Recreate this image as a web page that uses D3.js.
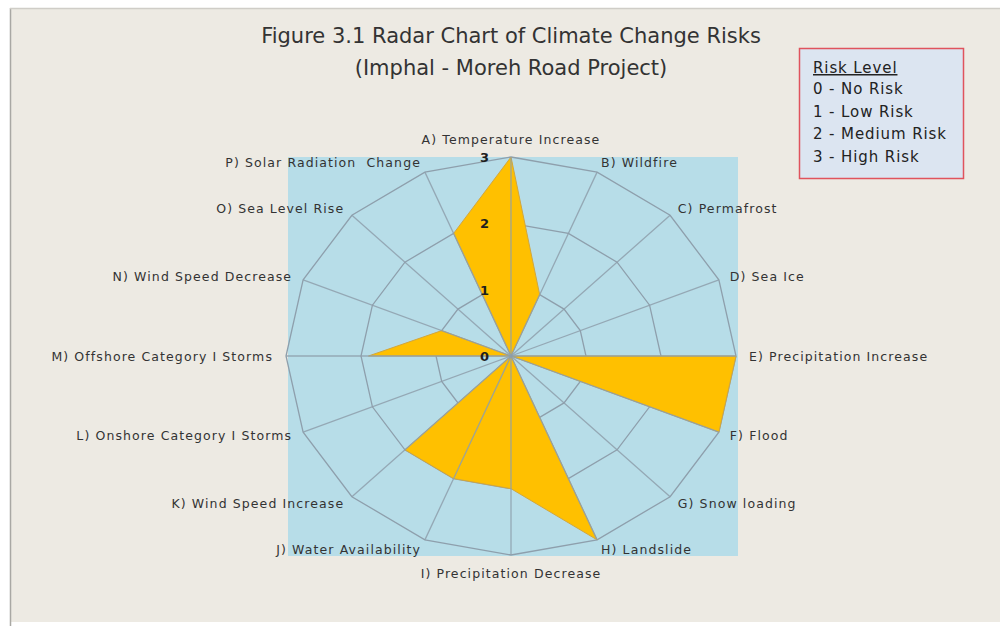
<!DOCTYPE html>
<html>
<head>
<meta charset="utf-8">
<script src="https://cdn.jsdelivr.net/npm/d3@7"></script>
<style>
  html, body { margin: 0; padding: 0; background: #ffffff; }
  svg { display: block; }
  text { font-family: "DejaVu Sans", "Open Sans", sans-serif; }
</style>
</head>
<body>
<svg id="chart" width="1000" height="626"></svg>
<script>
// Climate change risk categories, clockwise from the top
const categories = [
  "A) Temperature Increase",
  "B) Wildfire",
  "C) Permafrost",
  "D) Sea Ice",
  "E) Precipitation Increase",
  "F) Flood",
  "G) Snow loading",
  "H) Landslide",
  "I) Precipitation Decrease",
  "J) Water Availability",
  "K) Wind Speed Increase",
  "L) Onshore Category I Storms",
  "M) Offshore Category I Storms",
  "N) Wind Speed Decrease",
  "O) Sea Level Rise",
  "P) Solar Radiation  Change"
];

// Risk level per category (0 = none ... 3 = high)
const riskValues = [3, 1, 0, 0, 3, 3, 0, 3, 2, 2, 2, 0, 1.9, 1, 0, 2];

const tickValues = [0, 1, 2, 3];
const tickLabels = ["0", "1", "2", "3"];

const titleLines = [
  "Figure 3.1 Radar Chart of Climate Change Risks",
  "(Imphal - Moreh Road Project)"
];

const legendTitle = "Risk Level";
const legendLines = ["0 - No Risk", "1 - Low Risk", "2 - Medium Risk", "3 - High Risk"];

const svg = d3.select("#chart");

// page frame
svg.append("rect").attr("x", 11).attr("y", 9).attr("width", 989).attr("height", 613)
  .attr("fill", "#edeae3");
svg.append("line").attr("x1", 10.5).attr("x2", 10.5).attr("y1", 8).attr("y2", 626)
  .attr("stroke", "#a9a8a4").attr("stroke-width", 1.5);
svg.append("line").attr("x1", 10).attr("x2", 1000).attr("y1", 8.5).attr("y2", 8.5)
  .attr("stroke", "#cfcdc7").attr("stroke-width", 1.5);

// radar geometry (the plot is stretched horizontally)
const cx = 511, cy = 356, rx = 225, ry = 199;
const n = categories.length;
const angle = d3.scaleLinear().domain([0, n]).range([0, 2 * Math.PI]);
const radius = d3.scaleLinear().domain([0, 3]).range([0, 1]);

const px = (i, v) => cx + rx * radius(v) * Math.sin(angle(i));
const py = (i, v) => cy - ry * radius(v) * Math.cos(angle(i));

// plot area background
svg.append("rect")
  .attr("x", cx - rx + 2).attr("y", cy - ry)
  .attr("width", 2 * rx).attr("height", 2 * ry + 1)
  .attr("fill", "#b7dde8");

const gridColor = "#8e9fac";

// concentric rings for levels 1..3
const ringLine = d3.line().x(d => d[0]).y(d => d[1]).curve(d3.curveLinearClosed);
svg.append("g").selectAll("path")
  .data(tickValues.filter(t => t > 0))
  .join("path")
  .attr("d", t => ringLine(d3.range(n).map(i => [px(i, t), py(i, t)])))
  .attr("fill", "none")
  .attr("stroke", gridColor)
  .attr("stroke-width", 1.3);

// risk polygon
svg.append("path")
  .attr("d", ringLine(riskValues.map((v, i) => [px(i, v), py(i, v)])))
  .attr("fill", "#ffc000")
  .attr("stroke", "#d0a640")
  .attr("stroke-width", 1);

// spokes
svg.append("g").selectAll("line")
  .data(d3.range(n))
  .join("line")
  .attr("x1", cx).attr("y1", cy)
  .attr("x2", i => px(i, 3)).attr("y2", i => py(i, 3))
  .attr("stroke", gridColor)
  .attr("stroke-opacity", 0.85)
  .attr("stroke-width", 1.3);

// level tick labels along the first axis
svg.append("g").selectAll("text")
  .data(tickValues)
  .join("text")
  .attr("x", 489)
  .attr("y", t => py(0, t) + 5)
  .attr("text-anchor", "end")
  .attr("font-size", 13)
  .attr("font-weight", "bold")
  .attr("fill", "#1e1e1e")
  .text((t, i) => tickLabels[i]);

// category labels
svg.append("g").selectAll("text")
  .data(categories)
  .join("text")
  .attr("x", (d, i) => {
    const s = Math.sin(angle(i));
    const c = Math.abs(Math.cos(angle(i)));
    return cx + (rx + 10 + 3 * (1 - c)) * s;
  })
  .attr("y", (d, i) => {
    const c = Math.cos(angle(i));
    const extra = Math.abs(Math.sin(angle(i))) < 0.01 ? 8 : 0;
    return cy - (ry + 10 + extra) * c + 4.5;
  })
  .attr("text-anchor", (d, i) => {
    const s = Math.sin(angle(i));
    return s > 0.01 ? "start" : (s < -0.01 ? "end" : "middle");
  })
  .attr("font-size", 12.5)
  .attr("letter-spacing", 1.1)
  .attr("fill", "#333333")
  .style("white-space", "pre")
  .text(d => d);

// title
svg.append("g").selectAll("text")
  .data(titleLines)
  .join("text")
  .attr("x", 511)
  .attr("y", (d, i) => 43 + i * 32)
  .attr("text-anchor", "middle")
  .attr("font-family", "Open Sans, sans-serif")
  .attr("font-size", 21)
  .attr("fill", "#333333")
  .text(d => d);

// legend
const lg = svg.append("g").attr("transform", "translate(799,48)");
lg.append("rect")
  .attr("x", 0.5).attr("y", 0.5).attr("width", 164).attr("height", 130)
  .attr("fill", "#dce5f1")
  .attr("stroke", "#e0535d")
  .attr("stroke-width", 1.5);
lg.append("text")
  .attr("x", 14).attr("y", 25)
  .attr("font-size", 15)
  .attr("letter-spacing", 0.9)
  .attr("fill", "#222222")
  .attr("text-decoration", "underline")
  .text(legendTitle);
lg.append("g").selectAll("text")
  .data(legendLines)
  .join("text")
  .attr("x", 14)
  .attr("y", (d, i) => 46 + i * 22.7)
  .attr("font-size", 15)
  .attr("letter-spacing", 0.9)
  .attr("fill", "#222222")
  .text(d => d);
</script>
</body>
</html>
